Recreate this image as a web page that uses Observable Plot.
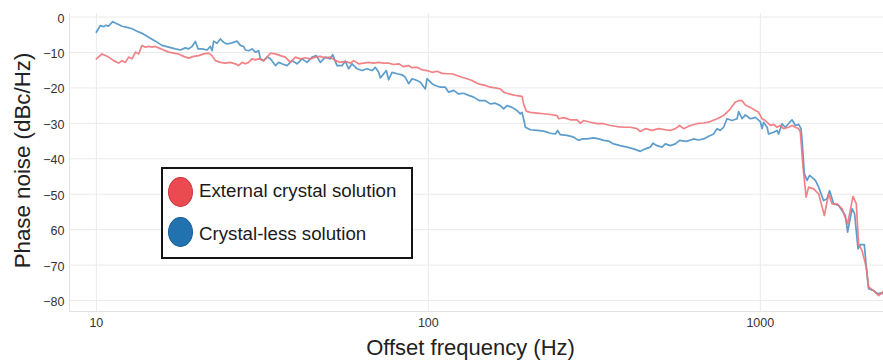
<!DOCTYPE html>
<html>
<head>
<meta charset="utf-8">
<script src="https://cdn.jsdelivr.net/npm/d3@7"></script>
<script src="https://cdn.jsdelivr.net/npm/@observablehq/plot@0.6"></script>
<style>
  html, body { margin: 0; padding: 0; background: #fff; }
  #wrap { position: relative; width: 883px; height: 360px; font-family: "Liberation Sans", Arial, sans-serif; }
  #legend { position: absolute; left: 161px; top: 167px; width: 252px; height: 92px; box-sizing: border-box;
            border: 2px solid #151515; background: #fff; }
  .dot { position: absolute; width: 25px; height: 30px; border-radius: 50%; box-sizing: border-box; }
  .lab { position: absolute; left: 36px; font-size: 18.7px; color: #1a1a1a; line-height: 22px; white-space: nowrap; }
</style>
</head>
<body>
<div id="wrap"></div>
<script>
// ---- Data ----
const seriesNames = ["External crystal solution", "Crystal-less solution"];
const seriesColors = ["#f07479", "#4b92c6"];

const xTicks = [10, 100, 1000];
const yTicks = [0, -10, -20, -30, -40, -50, -60, -70, -80];
const yTickLabels = ["0", "\u221210", "\u221220", "\u221230", "\u221240", "\u221250", "60", "\u221270", "\u221280"];

const redFreq = [
  10.0,10.40,10.89,11.27,11.67,11.95,12.23,12.51,12.81,13.11,
  13.41,13.73,14.05,14.37,14.72,15.06,15.40,15.95,16.51,17.10,
  17.70,18.32,18.97,19.64,20.33,21.05,21.79,22.31,22.83,23.63,
  24.46,25.32,26.22,26.82,27.47,28.11,28.76,29.44,30.13,30.83,
  31.91,32.68,33.43,34.62,35.83,37.10,38.40,39.76,41.17,42.62,
  44.12,45.67,47.29,48.96,50.68,52.48,54.33,56.23,58.23,59.57,
  61.68,63.84,66.10,68.43,70.85,73.35,75.93,78.62,81.38,84.26,
  87.24,89.33,92.48,95.71,99.11,102.6,106.2,110.0,113.8,117.9,
  122.0,126.3,130.8,135.4,140.2,143.4,148.5,153.7,159.2,164.8,
  168.6,172.6,178.7,185.0,191.5,193.6,197.3,202.9,212.5,222.5,
  233.1,244.2,246.9,255.6,267.7,280.5,287.0,293.7,307.6,322.2,
  337.3,353.2,370.2,387.6,405.9,425.2,435.1,450.4,471.8,494.1,
  517.5,535.7,554.6,571.4,587.5,615.6,644.9,674.9,707.0,740.6,
  775.3,812.3,841.2,860.5,881.0,901.5,933.3,966.0,988.3,1012,
  1035,1072,1097,1123,1149,1175,1217,1246,1275,1305,
  1320,1345,1374,1398,1447,1499,1559,1606,1644,1702,
  1763,1832,1902,1946,1977,2024,2086,2119,2194,2272,
  2347
];
const redDb = [
  -11.8,-10.4,-11.3,-12.3,-13.0,-12.3,-12.8,-11.3,-11.8,-9.9,
  -10.4,-8.0,-8.5,-8.3,-8.5,-8.3,-8.7,-9.3,-9.9,-10.2,
  -10.4,-11.1,-11.6,-11.1,-10.9,-10.4,-10.2,-10.9,-12.3,-12.8,
  -13.0,-12.8,-13.2,-13.7,-12.8,-13.2,-12.8,-11.8,-12.1,-11.8,
  -12.3,-11.3,-10.2,-10.4,-10.9,-11.3,-12.8,-11.3,-11.8,-11.5,
  -11.8,-11.3,-11.1,-11.5,-11.3,-12.3,-12.8,-12.5,-13.0,-12.3,
  -13.2,-13.0,-12.8,-13.0,-12.8,-13.0,-13.0,-13.4,-13.2,-14.0,
  -13.7,-14.3,-14.2,-14.9,-15.1,-15.6,-15.3,-15.9,-16.0,-16.0,
  -16.5,-17.0,-17.4,-17.9,-18.7,-19.0,-19.3,-19.8,-20.0,-20.3,
  -21.2,-21.5,-21.9,-22.2,-22.4,-24.5,-26.6,-26.9,-27.1,-27.3,
  -27.5,-27.8,-28.7,-28.4,-29.0,-29.0,-30.0,-29.2,-29.7,-30.1,
  -30.1,-30.6,-30.9,-31.1,-31.1,-31.5,-32.3,-31.5,-32.0,-31.5,
  -31.8,-32.0,-31.5,-30.6,-31.5,-30.6,-30.1,-29.9,-29.5,-28.7,
  -27.8,-25.9,-24.0,-23.6,-23.6,-24.8,-25.5,-26.4,-26.9,-28.7,
  -29.2,-30.6,-30.3,-31.1,-30.6,-31.5,-31.1,-30.6,-31.1,-31.5,
  -32.5,-42.4,-50.8,-48.0,-48.5,-49.9,-56.0,-49.9,-52.7,-52.7,
  -54.1,-58.4,-50.6,-52.7,-64.0,-65.9,-70.6,-76.2,-77.2,-78.6,
  -77.4
];

const blueFreq = [
  10.0,10.28,10.52,10.70,10.87,11.20,11.41,11.67,11.95,12.37,
  12.81,13.26,13.73,14.37,15.06,15.77,16.51,17.30,17.91,18.54,
  18.97,19.42,19.87,20.25,20.82,21.55,22.05,22.31,22.56,23.10,
  23.63,24.17,24.75,25.62,26.53,27.15,27.78,28.11,28.76,29.44,
  30.13,30.83,31.19,31.91,32.68,33.43,34.62,35.42,36.66,37.53,
  38.86,40.23,41.65,43.12,44.64,46.00,47.29,48.96,50.68,51.50,
  53.09,54.97,56.23,57.54,58.91,60.99,63.14,65.37,67.67,69.24,
  70.85,71.69,73.35,74.73,75.93,77.75,80.49,83.33,85.25,87.24,
  89.33,92.48,94.61,97.95,99.11,102.6,105.0,108.7,112.5,115.1,
  119.2,123.4,127.8,132.3,136.9,142.7,148.5,153.7,159.2,164.8,
  168.6,172.6,178.7,185.0,189.3,191.5,193.6,196.0,202.9,212.5,
  222.5,233.1,241.3,245.2,249.8,261.7,274.0,283.6,290.4,300.6,
  314.7,325.9,337.3,349.2,361.5,378.7,396.7,415.3,435.1,450.4,
  466.3,475.1,488.5,505.7,517.5,535.7,554.6,571.4,598.6,629.7,
  650.6,674.9,697.3,723.3,740.6,757.7,775.3,793.7,821.7,851.0,
  860.5,881.0,901.5,933.3,966.0,1000,1012,1023,1048,1059,
  1097,1123,1135,1163,1189,1246,1275,1305,1326,1336,
  1357,1383,1408,1465,1499,1551,1588,1617,1663,1721,
  1763,1803,1832,1889,1923,1969,2001,2057,2086,2119,
  2194,2256,2298,2347
];
const blueDb = [
  -4.3,-2.4,-2.7,-2.3,-2.6,-1.3,-1.7,-2.1,-2.6,-2.9,
  -3.3,-4.0,-4.6,-5.7,-6.8,-8.0,-8.5,-9.0,-9.3,-8.7,
  -9.0,-8.3,-6.9,-9.0,-9.0,-9.3,-8.3,-9.5,-6.8,-7.4,
  -6.2,-7.1,-7.6,-7.3,-6.8,-8.0,-8.3,-9.3,-9.5,-9.0,
  -9.9,-9.5,-11.8,-12.3,-11.3,-11.8,-13.7,-12.8,-13.4,-13.7,
  -12.3,-13.2,-11.8,-12.8,-11.3,-10.9,-12.8,-11.3,-11.8,-10.6,
  -13.7,-13.7,-12.5,-14.6,-13.2,-14.6,-15.1,-14.6,-15.1,-14.2,
  -15.6,-17.2,-16.0,-15.1,-17.7,-15.6,-16.0,-16.3,-17.0,-18.8,
  -17.4,-17.9,-18.4,-20.3,-17.4,-18.8,-19.3,-19.8,-19.8,-21.2,
  -20.7,-21.7,-21.5,-22.1,-22.6,-23.6,-23.6,-24.5,-24.3,-25.0,
  -25.9,-25.0,-25.5,-26.4,-27.3,-26.9,-28.7,-31.1,-31.8,-32.0,
  -32.2,-32.8,-33.0,-32.0,-33.2,-33.4,-33.9,-34.8,-34.4,-34.4,
  -34.1,-34.4,-34.8,-35.0,-35.8,-36.3,-36.7,-37.2,-37.9,-37.2,
  -36.7,-35.6,-36.3,-36.7,-35.8,-36.3,-35.8,-34.8,-35.1,-34.4,
  -34.7,-34.4,-33.7,-33.0,-31.5,-32.0,-31.1,-28.7,-29.2,-28.7,
  -26.7,-28.7,-27.6,-28.7,-28.3,-29.5,-31.5,-29.7,-31.1,-33.0,
  -32.5,-32.0,-33.0,-30.1,-31.1,-29.0,-30.6,-30.3,-31.5,-34.8,
  -44.2,-46.1,-44.7,-46.1,-48.0,-51.8,-51.3,-49.0,-52.7,-53.2,
  -54.6,-56.0,-60.7,-54.1,-55.5,-65.4,-64.2,-64.2,-70.6,-76.7,
  -77.2,-78.1,-77.9,-78.1
];

const xLabel = "Offset frequency (Hz)";
const yLabel = "Phase noise (dBc/Hz)";

// ---- Build table ----
const rows = [
  ...redFreq.map((f, i) => ({f, v: redDb[i], s: seriesNames[0]})),
  ...blueFreq.map((f, i) => ({f, v: blueDb[i], s: seriesNames[1]}))
];
const xDomain = [8.3, 2350];
const yDomain = [-83.1, 1];
const gridColor = "#ebebeb";

const chart = Plot.plot({
  width: 883,
  height: 360,
  marginLeft: 69,
  marginRight: 0,
  marginTop: 13,
  marginBottom: 49,
  style: {fontFamily: "'Liberation Sans', Arial, sans-serif", fontSize: "12.5px", color: "#333", background: "#fff"},
  x: {type: "log", domain: xDomain},
  y: {domain: yDomain},
  color: {domain: seriesNames, range: seriesColors},
  marks: [
    Plot.gridX(xTicks, {stroke: gridColor, strokeOpacity: 1}),
    Plot.gridY(yTicks, {stroke: gridColor, strokeOpacity: 1}),
    Plot.ruleX([xDomain[0]], {stroke: "#e2e2e2"}),
    Plot.ruleY([yDomain[0]], {stroke: "#e2e2e2"}),
    Plot.lineY(rows.filter(d => d.s === seriesNames[1]), {x: "f", y: "v", stroke: "s", strokeWidth: 1.7, strokeOpacity: 0.9}),
    Plot.lineY(rows.filter(d => d.s === seriesNames[0]), {x: "f", y: "v", stroke: "s", strokeWidth: 1.7, strokeOpacity: 0.9}),
    Plot.axisX(xTicks, {tickSize: 0, tickPadding: 7, tickFormat: d => String(d), label: null, fill: "#333"}),
    Plot.axisY(yTicks, {tickSize: 0, tickPadding: 5, dy: 1.5, tickFormat: d => yTickLabels[yTicks.indexOf(d)], label: null, fill: "#333"}),
    Plot.text([yLabel], {frameAnchor: "left", dx: -47, dy: -2, rotate: -90, textAnchor: "middle", lineAnchor: "middle", fontSize: 22.3, fill: "#222"}),
    Plot.text([xLabel], {frameAnchor: "bottom", dx: -6, dy: 36, textAnchor: "middle", lineAnchor: "middle", fontSize: 22, fill: "#222"})
  ]
});

const wrap = document.getElementById("wrap");
wrap.appendChild(chart);

// ---- Legend ----
const legend = document.createElement("div");
legend.id = "legend";
const dotFills = ["#ea4a50", "#2272b0"];
const dotStrokes = ["#c8383e", "#1b5f95"];
seriesNames.forEach((name, i) => {
  const dot = document.createElement("div");
  dot.className = "dot";
  dot.style.left = "5px";
  dot.style.top = (i === 0 ? 8 : 48) + "px";
  dot.style.background = dotFills[i];
  dot.style.border = "1.5px solid " + dotStrokes[i];
  legend.appendChild(dot);
  const lab = document.createElement("div");
  lab.className = "lab";
  lab.style.top = (i === 0 ? 11 : 54) + "px";
  lab.textContent = name;
  legend.appendChild(lab);
});
wrap.appendChild(legend);
</script>
</body>
</html>
